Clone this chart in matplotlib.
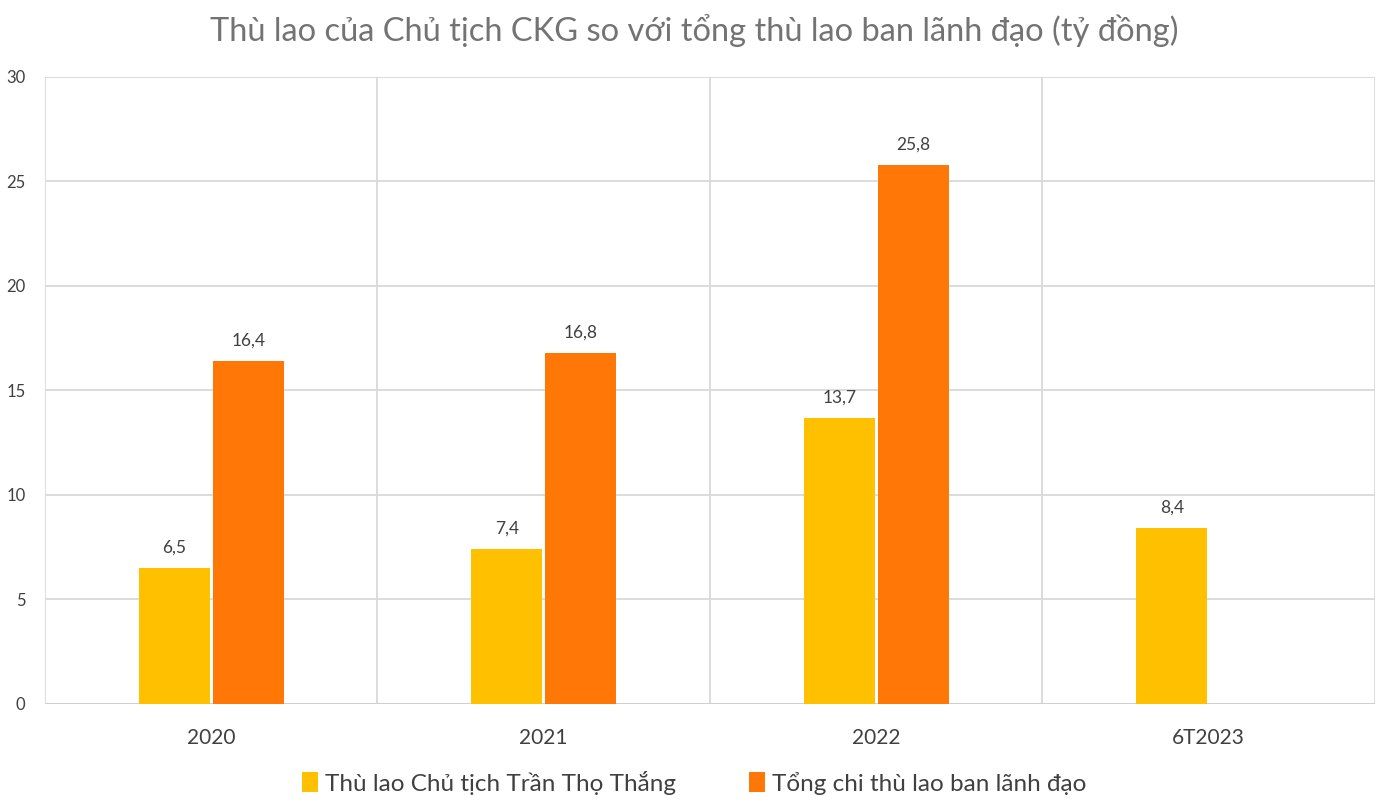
import numpy as np
import matplotlib.pyplot as plt

plt.rcParams['font.family'] = ['Lato', 'DejaVu Sans']

categories = ['2020', '2021', '2022', '6T2023']
chu_tich = [6.5, 7.4, 13.7, 8.4]
tong_chi = [16.4, 16.8, 25.8, np.nan]
series_names = ['Thù lao Chủ tịch Trần Thọ Thắng', 'Tổng chi thù lao ban lãnh đạo']

fig = plt.figure(figsize=(13.88, 8.06), dpi=100)
ax = fig.add_axes([0.0324, 0.1266, 0.9582, 0.7779])

x = np.arange(len(categories))
w = 0.2135
off = 0.111
b1 = ax.bar(x - off, chu_tich, w, color='#FFC000', label=series_names[0], zorder=3)
b2 = ax.bar(x + off, tong_chi, w, color='#FF7807', label=series_names[1], zorder=3)

for bars, vals in [(b1, chu_tich), (b2, tong_chi)]:
    for rect, v in zip(bars, vals):
        if np.isnan(v):
            continue
        ax.annotate(f'{v:.1f}'.replace('.', ','), (rect.get_x() + rect.get_width() / 2, v),
                    xytext=(0, 9), textcoords='offset points', ha='center', va='bottom',
                    fontsize=12.5, color='#404040')

ax.set_xlim(-0.5, 3.5)
ax.set_ylim(0, 30)
ax.set_yticks(range(0, 31, 5))
ax.set_xticks(x)
ax.set_xticklabels(categories, fontsize=15, color='#404040')
ax.tick_params(axis='y', labelsize=12, labelcolor='#404040', length=0, pad=14)
ax.tick_params(axis='x', length=0, pad=17)
ax.set_xticks(np.arange(-0.5, 4, 1), minor=True)
ax.tick_params(axis='x', which='minor', length=0)
ax.grid(axis='y', color='#D9D9D9', lw=1.3, zorder=0)
ax.grid(axis='x', which='minor', color='#D9D9D9', lw=1.3, zorder=0)
ax.grid(axis='x', which='major', visible=False)
for s in ax.spines.values():
    s.set_visible(False)
ax.axhline(0, color='#D0D0D0', lw=1.5, zorder=2)

fig.suptitle('Thù lao của Chủ tịch CKG so với tổng thù lao ban lãnh đạo (tỷ đồng)',
             y=0.982, fontsize=23.5, color='#737373', va='top')
fig.legend(loc='lower center', bbox_to_anchor=(0.5, -0.013), ncol=2, frameon=False,
           fontsize=17.5, handlelength=0.65, handleheight=0.9, columnspacing=3.0,
           handletextpad=0.3, labelcolor='#404040')

fig.savefig('out.png', dpi=100)
